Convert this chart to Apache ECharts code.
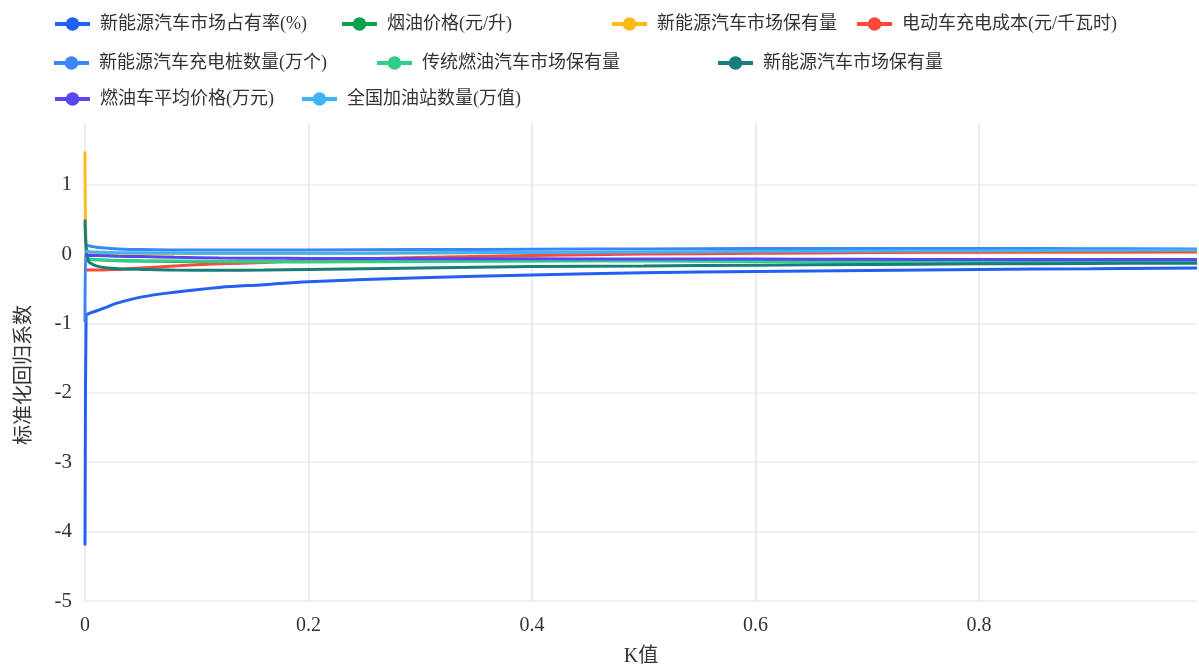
<!DOCTYPE html>
<html>
<head>
<meta charset="utf-8">
<script src="https://cdn.jsdelivr.net/npm/echarts@6/dist/echarts.min.js"></script>
<style>
  html, body { margin: 0; padding: 0; background: #fff; }
  #chart { width: 1199px; height: 667px; }
</style>
</head>
<body>
<div id="chart"></div>
<script>
// K值 (岭参数)
const kValues = [0, 0.001, 0.003, 0.006, 0.01, 0.02, 0.03, 0.05, 0.08, 0.12, 0.16, 0.2, 0.3, 0.4, 0.5, 0.6, 0.7, 0.8, 0.9, 0.995]

// 各变量的标准化回归系数
const shareRate   = [-4.2, -0.88, -0.86, -0.84, -0.82, -0.76, -0.7, -0.62, -0.55, -0.48, -0.44, -0.4, -0.34, -0.3, -0.27, -0.25, -0.235, -0.22, -0.21, -0.2]
const oilPrice    = [-0.05, -0.06, -0.07, -0.075, -0.08, -0.09, -0.095, -0.1, -0.105, -0.11, -0.11, -0.11, -0.1, -0.095, -0.09, -0.085, -0.082, -0.08, -0.078, -0.077]
const nevStock    = [1.48, 0.1, 0.04, 0.02, 0.01, 0.0, 0.0, 0.0, 0.005, 0.01, 0.01, 0.01, 0.015, 0.02, 0.02, 0.025, 0.028, 0.03, 0.03, 0.03]
const chargeCost  = [-0.22, -0.23, -0.23, -0.23, -0.23, -0.225, -0.22, -0.2, -0.17, -0.14, -0.12, -0.09, -0.05, -0.02, 0.0, 0.012, 0.022, 0.028, 0.031, 0.033]
const pileCount   = [-0.98, 0.13, 0.12, 0.11, 0.1, 0.085, 0.075, 0.065, 0.06, 0.058, 0.058, 0.06, 0.065, 0.07, 0.075, 0.08, 0.08, 0.08, 0.078, 0.075]
const fuelStock   = [-0.05, -0.06, -0.07, -0.075, -0.08, -0.085, -0.09, -0.095, -0.1, -0.105, -0.11, -0.11, -0.105, -0.1, -0.1, -0.105, -0.11, -0.11, -0.11, -0.11]
const nevStock2   = [0.5, 0.1, -0.1, -0.14, -0.17, -0.2, -0.21, -0.22, -0.23, -0.232, -0.228, -0.22, -0.2, -0.18, -0.17, -0.16, -0.15, -0.14, -0.135, -0.13]
const fuelCarCost = [-0.02, -0.02, -0.02, -0.02, -0.02, -0.025, -0.03, -0.035, -0.045, -0.055, -0.06, -0.062, -0.065, -0.068, -0.07, -0.072, -0.075, -0.078, -0.08, -0.08]
const gasStation  = [0.05, 0.04, 0.035, 0.03, 0.03, 0.025, 0.02, 0.02, 0.015, 0.012, 0.012, 0.012, 0.018, 0.025, 0.03, 0.04, 0.045, 0.05, 0.055, 0.06]

const names = ['新能源汽车市场占有率(%)', '烟油价格(元/升)', '新能源汽车市场保有量', '电动车充电成本(元/千瓦时)',
  '新能源汽车充电桩数量(万个)', '传统燃油汽车市场保有量', '新能源汽车市场保有量\u200b', '燃油车平均价格(万元)', '全国加油站数量(万值)']
const values = [shareRate, oilPrice, nevStock, chargeCost, pileCount, fuelStock, nevStock2, fuelCarCost, gasStation]
const colors = ['#2160F3', '#0E9F50', '#FDBB1A', '#FF4A3B', '#3A86F5', '#2FCF88', '#177E78', '#5646F6', '#3DB5F5']

// 图例位置 [left, top]
const legendPos = [[53, 15], [340, 15], [610, 15], [855, 15], [52, 54], [375, 54], [716, 54], [53, 90], [300, 90]]

const fontFamily = "'Liberation Serif', 'Noto Sans CJK SC', serif"

const chart = echarts.init(document.getElementById('chart'))

const option = {
  color: colors,
  textStyle: { fontFamily },
  legend: names.map((name, i) => ({
    data: [name],
    left: legendPos[i][0],
    top: legendPos[i][1],
    padding: 0,
    itemWidth: 35,
    itemHeight: 17,
    lineStyle: { width: 4 },
    textStyle: { fontSize: 18, color: '#333', fontFamily, padding: [0, 0, 0, 5] }
  })),
  grid: { left: 85, right: 2, top: 123, bottom: 66, outerBoundsMode: 'none', containLabel: false },
  xAxis: {
    type: 'value',
    min: 0,
    max: 0.995,
    interval: 0.2,
    name: 'K值',
    nameLocation: 'middle',
    nameGap: 46,
    nameTextStyle: { fontSize: 20, color: '#333', fontFamily },
    axisLine: { show: false },
    axisTick: { show: false },
    axisLabel: { fontSize: 20, color: '#333', margin: 15, showMaxLabel: false, fontFamily },
    splitLine: { show: true, showMaxLine: false, lineStyle: { color: '#E0E6F1', width: 1.5 } }
  },
  yAxis: {
    type: 'value',
    min: -5,
    max: 1.89,
    interval: 1,
    name: '标准化回归系数',
    nameLocation: 'middle',
    nameGap: 50,
    nameTextStyle: { fontSize: 20, color: '#333', fontFamily, padding: [0, 26, 0, 0] },
    axisLine: { show: false },
    axisTick: { show: false },
    axisLabel: { fontSize: 21, color: '#333', margin: 13, showMaxLabel: false, fontFamily },
    splitLine: { show: true, showMaxLine: false, lineStyle: { color: '#EBEBEB', width: 1.5 } }
  },
  series: names.map((name, i) => ({
    name,
    type: 'line',
    data: kValues.map((k, j) => [k, values[i][j]]),
    smooth: 0.4,
    showSymbol: false,
    symbol: 'circle',
    lineStyle: { width: 3 }
  }))
}

chart.setOption(option)
</script>
</body>
</html>
